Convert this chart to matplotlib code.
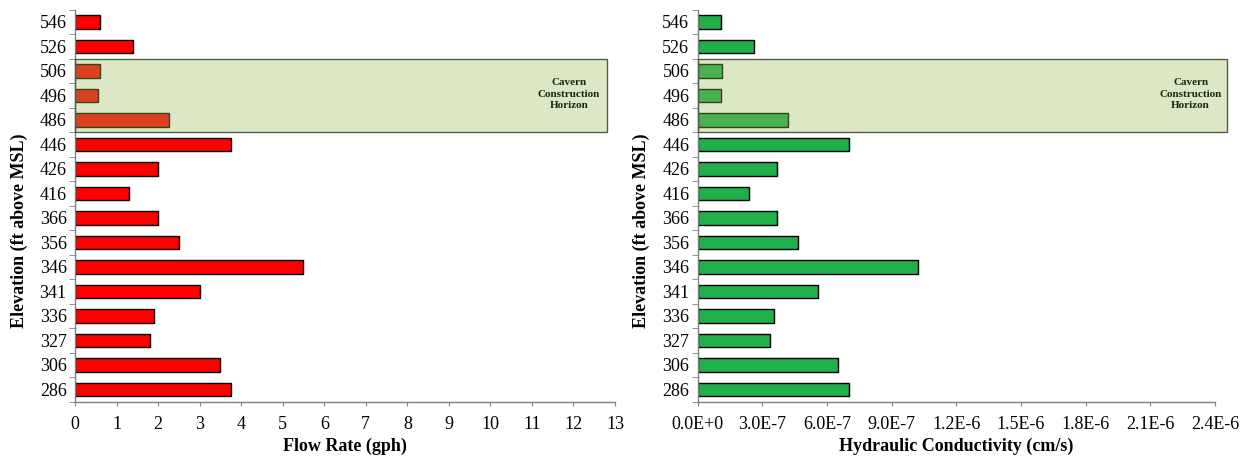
import matplotlib
matplotlib.use("Agg")
import matplotlib.pyplot as plt
import matplotlib.transforms as mtransforms
from matplotlib.patches import Rectangle
from matplotlib.ticker import FixedLocator, NullFormatter

plt.rcParams["font.family"] = ["Liberation Serif", "DejaVu Serif"]

# Test interval elevations (ft above MSL), listed top to bottom
elevations = ["546", "526", "506", "496", "486", "446", "426", "416",
              "366", "356", "346", "341", "336", "327", "306", "286"]

# Flow rate measured in each interval (gph)
flow_rate = [0.6, 1.4, 0.6, 0.55, 2.25, 3.75, 2.0, 1.3,
             2.0, 2.5, 5.5, 3.0, 1.9, 1.8, 3.5, 3.75]

# Hydraulic conductivity of each interval (cm/s)
conductivity = [1.1e-7, 2.6e-7, 1.15e-7, 1.1e-7, 4.2e-7, 7.0e-7, 3.7e-7, 2.4e-7,
                3.7e-7, 4.65e-7, 1.02e-6, 5.6e-7, 3.55e-7, 3.35e-7, 6.5e-7, 7.0e-7]

flow_ticks = list(range(0, 14))
cond_ticks = [0.0, 3.0e-7, 6.0e-7, 9.0e-7, 1.2e-6, 1.5e-6, 1.8e-6, 2.1e-6, 2.4e-6]
cond_labels = ["0.0E+0", "3.0E-7", "6.0E-7", "9.0E-7", "1.2E-6",
               "1.5E-6", "1.8E-6", "2.1E-6", "2.4E-6"]

# Elevations that fall inside the cavern construction horizon
horizon = ["506", "496", "486"]

fig = plt.figure(figsize=(12.51, 4.58), dpi=100)
ax1 = fig.add_axes([0.060, 0.123, 0.4316, 0.856])
ax2 = fig.add_axes([0.5577, 0.123, 0.4135, 0.856])

n = len(elevations)
pos = list(range(n))

panels = [
    (ax1, flow_rate, "#FF0000", "Flow Rate (gph)", flow_ticks,
     [str(t) for t in flow_ticks], 13, 0.985, -0.0865),
    (ax2, conductivity, "#1FAF4B", "Hydraulic Conductivity (cm/s)", cond_ticks,
     cond_labels, 2.4e-6, 1.023, -0.093),
]

for ax, values, color, xlabel, ticks, labels, xmax, box_right, ylab_x in panels:
    ax.barh(pos, values, height=0.55, color=color, edgecolor="black",
            linewidth=1.0, zorder=2)
    ax.set_ylim(n - 0.5, -0.5)
    ax.set_xlim(0, xmax)

    ax.set_yticks(pos)
    ax.set_yticklabels(elevations, fontsize=13)
    ax.yaxis.set_minor_locator(FixedLocator([p + 0.5 for p in range(-1, n)]))
    ax.yaxis.set_minor_formatter(NullFormatter())
    ax.tick_params(axis="y", which="major", length=0, pad=6)
    ax.tick_params(axis="y", which="minor", length=4, color="#808080")

    ax.set_xticks(ticks)
    ax.set_xticklabels(labels, fontsize=13)
    ax.tick_params(axis="x", length=3, color="#808080", pad=7)

    for side in ("top", "right"):
        ax.spines[side].set_visible(False)
    for side in ("left", "bottom"):
        ax.spines[side].set_color("#808080")
        ax.spines[side].set_linewidth(1.0)

    ax.set_xlabel(xlabel, fontsize=13, fontweight="bold", labelpad=4)
    ax.set_ylabel("Elevation (ft above MSL)", fontsize=13, fontweight="bold")
    ax.yaxis.set_label_coords(ylab_x, 0.435)

    # Shaded band over the cavern construction horizon
    idx = [elevations.index(e) for e in horizon]
    top, bottom = min(idx) - 0.5, max(idx) + 0.5
    trans = mtransforms.blended_transform_factory(ax.transAxes, ax.transData)
    band = Rectangle((0, top), box_right, bottom - top, transform=trans,
                     facecolor="#9BBB59", alpha=0.35, edgecolor="none",
                     zorder=3, clip_on=False)
    ax.add_patch(band)
    outline = Rectangle((0, top), box_right, bottom - top, transform=trans,
                        facecolor="none", edgecolor="#4F5F45", linewidth=1.0,
                        zorder=4, clip_on=False)
    ax.add_patch(outline)
    ax.text(box_right - 0.07, (top + bottom) / 2 - 0.05,
            "Cavern\nConstruction\nHorizon", transform=trans,
            ha="center", va="center", fontsize=8, fontweight="bold",
            color="#1A2A10", linespacing=1.35, zorder=5)

fig.savefig("out.png", dpi=100, facecolor="white")
